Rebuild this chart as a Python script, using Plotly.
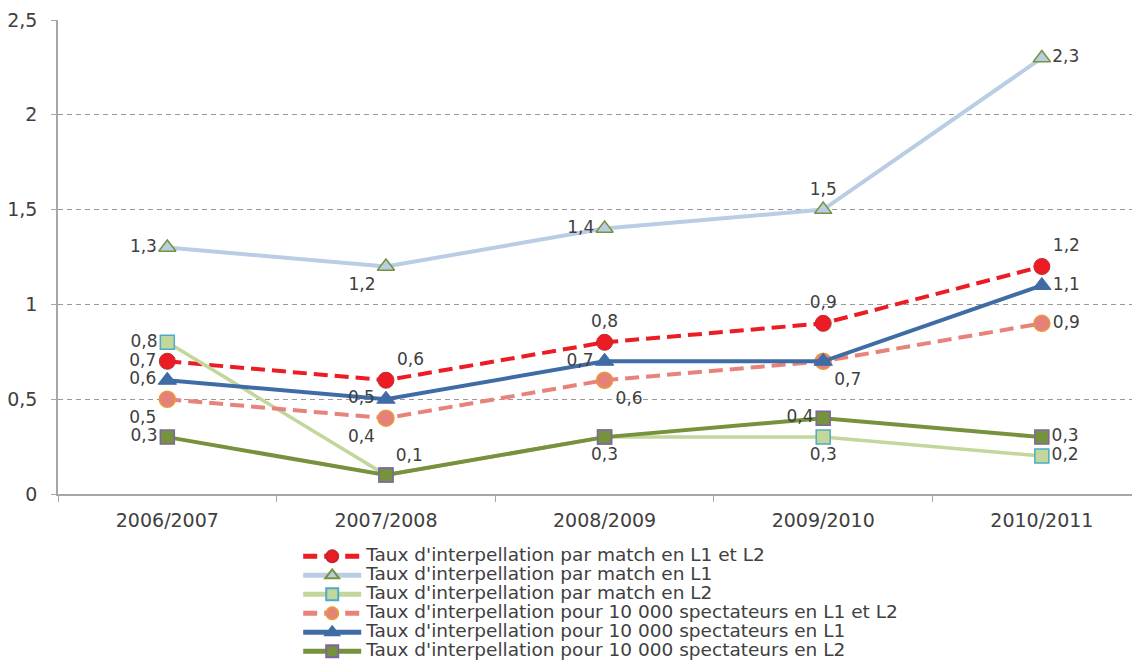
import plotly.graph_objects as go

seasons = ["2006/2007", "2007/2008", "2008/2009", "2009/2010", "2010/2011"]

names = [
    "Taux d'interpellation par match en L1 et L2",
    "Taux d'interpellation par match en L1",
    "Taux d'interpellation par match en L2",
    "Taux d'interpellation pour 10 000 spectateurs en L1 et L2",
    "Taux d'interpellation pour 10 000 spectateurs en L1",
    "Taux d'interpellation pour 10 000 spectateurs en L2",
]

match_l1_l2 = [0.7, 0.6, 0.8, 0.9, 1.2]
match_l1 = [1.3, 1.2, 1.4, 1.5, 2.3]
match_l2 = [0.8, 0.1, 0.3, 0.3, 0.2]
spect_l1_l2 = [0.5, 0.4, 0.6, 0.7, 0.9]
spect_l1 = [0.6, 0.5, 0.7, 0.7, 1.1]
spect_l2 = [0.3, 0.1, 0.3, 0.4, 0.3]

y_ticks = [0, 0.5, 1, 1.5, 2, 2.5]
y_tick_labels = ["0", "0,5", "1", "1,5", "2", "2,5"]

FONT = "DejaVu Sans"
TXT = "#404040"


def fr(v):
    return f"{v:.1f}".replace(".", ",")


series = [
    dict(y=match_l1_l2, line=dict(color="#EC1C24", width=4, dash="14px,7px"),
         marker=dict(symbol="circle", size=16, color="#EC1C24", line=dict(color="#C0282E", width=1)),
         pos=["middle left", "top right", "top center", "top center", "top right"],
         show=[1, 1, 1, 1, 1]),
    dict(y=match_l1, line=dict(color="#B9CDE5", width=4),
         marker=dict(symbol="triangle-up", size=15, color="#B9CDE5", line=dict(color="#77933C", width=1.5)),
         pos=["middle left", "bottom left", "middle left", "top center", "middle right"],
         show=[1, 1, 1, 1, 1]),
    dict(y=match_l2, line=dict(color="#C3D69B", width=3.5),
         marker=dict(symbol="square", size=14, color="#C3D69B", line=dict(color="#4BACC6", width=1.5)),
         pos=["middle left", "top right", "bottom center", "bottom center", "middle right"],
         show=[1, 0, 1, 1, 1]),
    dict(y=spect_l1_l2, line=dict(color="#E8837B", width=4, dash="14px,7px"),
         marker=dict(symbol="circle", size=16, color="#E6807A", line=dict(color="#E69A3C", width=1.5)),
         pos=["bottom left", "bottom left", "bottom right", "bottom right", "middle right"],
         show=[1, 1, 1, 0, 1]),
    dict(y=spect_l1, line=dict(color="#3F6CA4", width=4),
         marker=dict(symbol="triangle-up", size=16, color="#3F6CA4", line=dict(color="#3F6CA4", width=1)),
         pos=["middle left", "middle left", "middle left", "bottom right", "middle right"],
         show=[1, 1, 1, 1, 1]),
    dict(y=spect_l2, line=dict(color="#76923C", width=4),
         marker=dict(symbol="square", size=14, color="#76923C", line=dict(color="#8064A2", width=1.5)),
         pos=["middle left", "top right", "bottom center", "middle left", "middle right"],
         show=[1, 1, 0, 1, 1]),
]

fig = go.Figure()
for name, s in zip(names, series):
    fig.add_trace(go.Scatter(
        x=seasons, y=s["y"],
        name=f'<span style="font-size:18.5px">{name}</span>',
        mode="lines+markers+text",
        line=s["line"], marker=s["marker"],
        text=[fr(v) if sh else "" for v, sh in zip(s["y"], s["show"])],
        textposition=s["pos"],
        textfont=dict(family=FONT, size=17, color=TXT),
        cliponaxis=False,
    ))

# the page body adds an 8px offset, so the figure is 8px smaller than the window
fig.update_layout(
    width=1132, height=653,
    margin=dict(l=50, r=0, t=12, b=167, autoexpand=False),
    paper_bgcolor="white", plot_bgcolor="white",
    font=dict(family=FONT, size=15, color=TXT),
    showlegend=True,
    legend=dict(
        x=0.222, xanchor="left", y=-0.101, yanchor="top",
        font=dict(family=FONT, size=12, color=TXT),
        itemwidth=58, itemsizing="constant", tracegroupgap=0,
        bgcolor="rgba(0,0,0,0)",
    ),
    xaxis=dict(
        type="category", range=[-0.5, 4.449],
        showline=True, linecolor="#A6A6A6", linewidth=1.5,
        ticks="outside", tickson="boundaries", ticklen=6, tickcolor="#A6A6A6",
        ticklabelstandoff=8,
        showgrid=False, zeroline=False, automargin=False,
        tickfont=dict(family=FONT, size=19, color=TXT),
    ),
    yaxis=dict(
        range=[0, 2.5], tickvals=y_ticks, ticktext=y_tick_labels,
        showline=True, linecolor="#A6A6A6", linewidth=1.5,
        ticks="outside", ticklen=5, tickcolor="#A6A6A6",
        ticklabelstandoff=10,
        showgrid=True, gridcolor="#9A9A9A", griddash="5px,4px", gridwidth=1,
        zeroline=False, automargin=False,
        tickfont=dict(family=FONT, size=19, color=TXT),
    ),
)

fig.write_html("out.html")
